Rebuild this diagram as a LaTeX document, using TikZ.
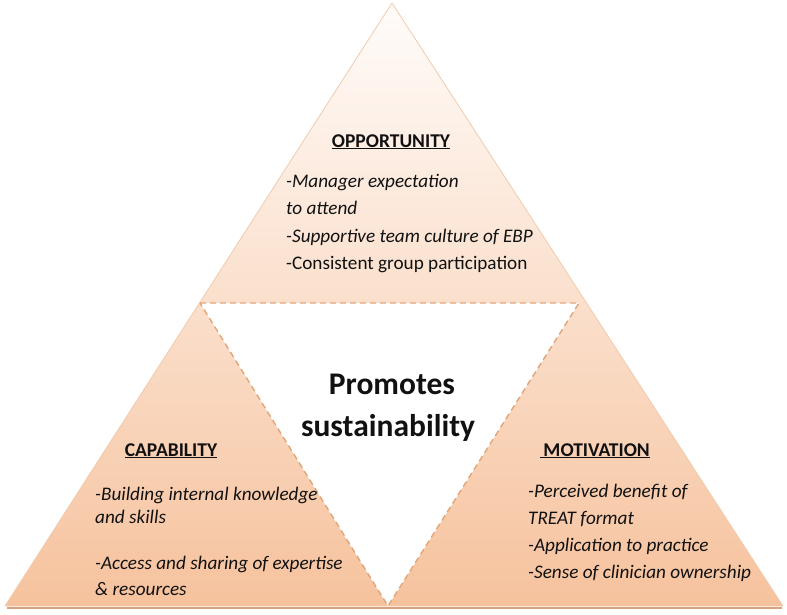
\documentclass[tikz,border=0pt]{standalone}
\usepackage{fontspec}
\setmainfont{Carlito}
\definecolor{peachtop}{HTML}{FFFCFA}
\definecolor{peachmid}{HTML}{F9DCC7}
\definecolor{peachbot}{HTML}{F6C29D}
\definecolor{edgecol}{HTML}{F1CBAE}
\definecolor{shadowcol}{HTML}{D9A27E}
\definecolor{dashcol}{HTML}{E2A578}
\definecolor{txt}{HTML}{111111}
\tikzset{
  item/.style={anchor=base west, inner sep=0pt, font=\fontsize{19.2}{22}\selectfont\itshape, text=txt},
  itemup/.style={anchor=base west, inner sep=0pt, font=\fontsize{19.2}{22}\selectfont, text=txt},
  head/.style={anchor=base, inner sep=0pt, font=\fontsize{19.5}{22}\selectfont\bfseries, text=txt},
  centre/.style={anchor=base, inner sep=0pt, font=\fontsize{31.5}{36}\selectfont\bfseries, text=txt},
}
\begin{document}
\begin{tikzpicture}[x=1pt,y=-1pt]
\useasboundingbox (0,0) rectangle (787,614);
\fill[white] (0,0) rectangle (787,614);
% corners
\coordinate (A) at (392,3);
\coordinate (L) at (5,606);
\coordinate (R) at (783,606);
\coordinate (P) at (200,303);
\coordinate (Q) at (579,303);
\coordinate (M) at (388,606);
% big triangle with gradient
\draw[shadowcol, line width=2pt] ([xshift=2pt,yshift=-1.5pt]L) -- ([xshift=-1pt,yshift=-1.5pt]R);
\shade[top color=peachtop, middle color=peachmid, bottom color=peachbot] (A) -- (L) -- (R) -- cycle;
\draw[edgecol, line width=0.8pt] (A) -- (L) -- (R) -- cycle;
% inner white triangle
\fill[white] (P) -- (Q) -- (M) -- cycle;
\draw[dashcol, line width=1.4pt, dash pattern=on 6pt off 4pt] (P) -- (Q) -- (M) -- cycle;
% opportunity
\node[head] (opp) at (391,147) {\underline{OPPORTUNITY}};
\node[item] (o1) at (286,187) {-Manager expectation};
\node[item] (o2) at (286,214) {to attend};
\node[item] (o3) at (286,242) {-Supportive team culture of EBP};
\node[itemup] (o4) at (286,269) {-Consistent group participation};
% centre
\node[centre] (c1) at (392,394) {Promotes};
\node[centre] (c2) at (388,436) {sustainability};
% capability
\node[head] (cap) at (171,456) {\underline{CAPABILITY}};
\node[item] (a1) at (95,500) {-Building internal knowledge};
\node[item] (a2) at (95,523) {and skills};
\node[item] (a3) at (95,569) {-Access and sharing of expertise};
\node[item] (a4) at (95,595) {\& resources};
% motivation
\node[head] (mot) at (595,456) {\underline{\,MOTIVATION}};
\node[item] (m1) at (528,497) {-Perceived benefit of};
\node[item] (m2) at (528,524) {TREAT format};
\node[item] (m3) at (528,551) {-Application to practice};
\node[item] (m4) at (528,578) {-Sense of clinician ownership};
\end{tikzpicture}
\end{document}
